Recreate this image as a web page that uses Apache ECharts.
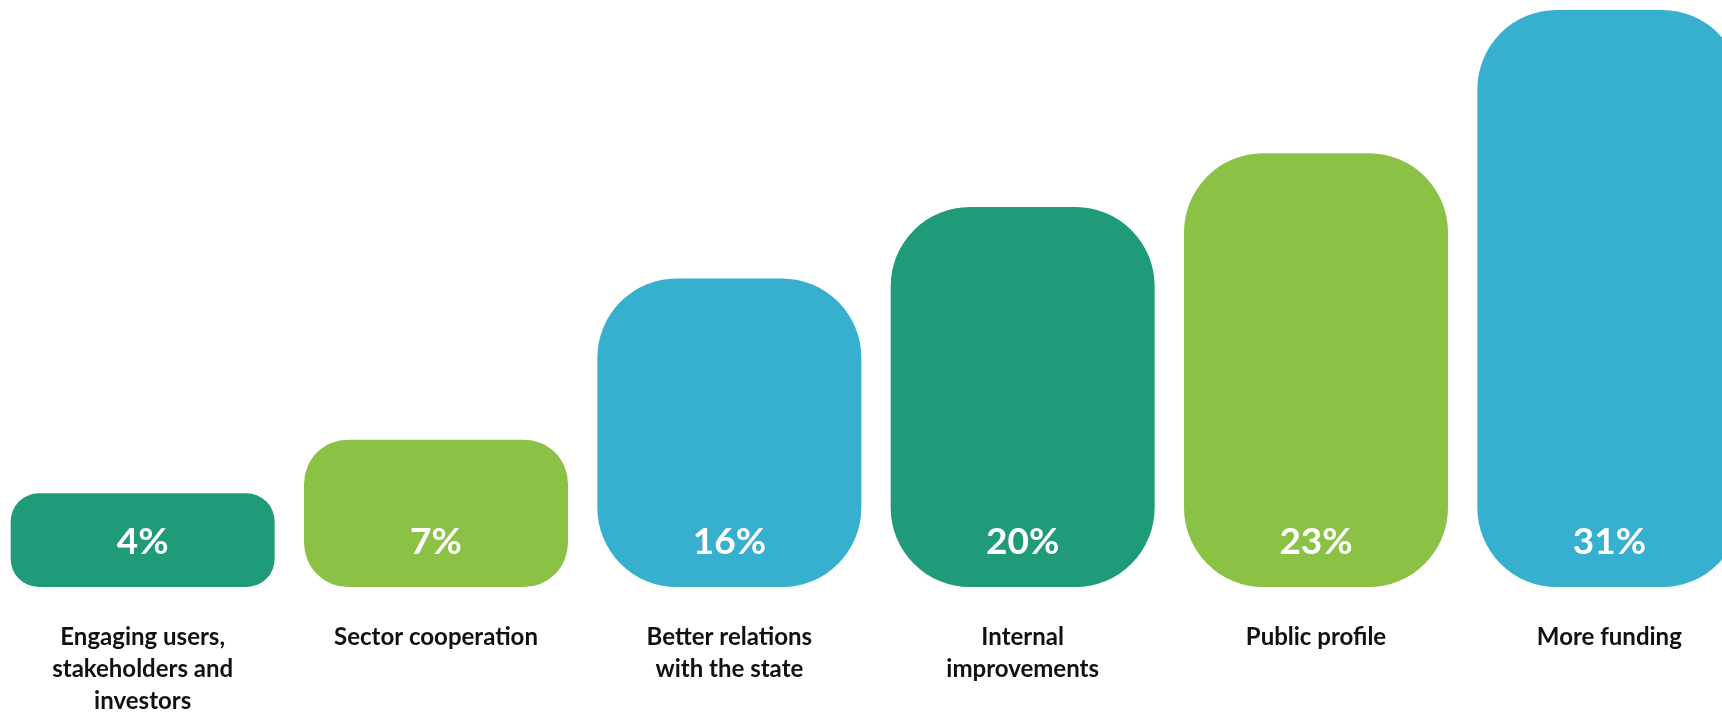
<!DOCTYPE html>
<html>
<head>
<meta charset="utf-8">
<script src="https://cdn.jsdelivr.net/npm/echarts@6/dist/echarts.min.js"></script>
<style>
  html, body { margin: 0; padding: 0; background: #fff; overflow: hidden; }
  /* a bit wider than the window so the last bar runs off the right edge */
  #chart { width: 1760px; height: 713px; margin-left: -4px; }
</style>
</head>
<body>
<div id="chart"></div>
<script>
// categories and values
var categories = [
  'Engaging users,\nstakeholders and\ninvestors',
  'Sector cooperation',
  'Better relations\nwith the state',
  'Internal\nimprovements',
  'Public profile',
  'More funding'
];
var values = [4, 7, 16, 20, 23, 31];
var palette = ['#1F9B7A', '#8BC246', '#37AFCF'];

var axisMin = -1.23;

var chart = echarts.init(document.getElementById('chart'));

function buildData(radii) {
  var res = [];
  for (var i = 0; i < values.length; i++) {
    res.push({
      value: values[i],
      itemStyle: {
        color: palette[i % 3],
        borderRadius: radii ? radii[i] : 0
      }
    });
  }
  return res;
}

var option = {
  animation: false,
  grid: {
    left: 0, right: 0, top: 10, bottom: 126,
    containLabel: false,
    outerBoundsMode: 'none'
  },
  xAxis: {
    type: 'category',
    data: categories,
    axisLine: { show: false, onZero: false },
    axisTick: { show: false },
    axisLabel: {
      interval: 0,
      margin: 34,
      color: '#111',
      fontFamily: 'Lato',
      fontWeight: 'bold',
      fontSize: 24,
      lineHeight: 32,
      align: 'center'
    }
  },
  yAxis: {
    type: 'value',
    min: axisMin,
    max: 31,
    startValue: axisMin,
    show: false,
    splitLine: { show: false }
  },
  series: [{
    type: 'bar',
    barWidth: 264,
    data: buildData(null),
    label: {
      show: true,
      position: 'insideBottom',
      distance: 26,
      formatter: '{c}%',
      color: '#fff',
      fontFamily: 'Lato',
      fontWeight: 'bold',
      fontSize: 37
    }
  }]
};
chart.setOption(option);

// corner radius ~30% of the shorter side of each bar
var base = chart.convertToPixel({ yAxisIndex: 0 }, axisMin);
var radii = values.map(function (v) {
  var h = base - chart.convertToPixel({ yAxisIndex: 0 }, v);
  return Math.min(0.3 * h, 0.3 * 264);
});
chart.setOption({ series: [{ data: buildData(radii) }] });
</script>
</body>
</html>
